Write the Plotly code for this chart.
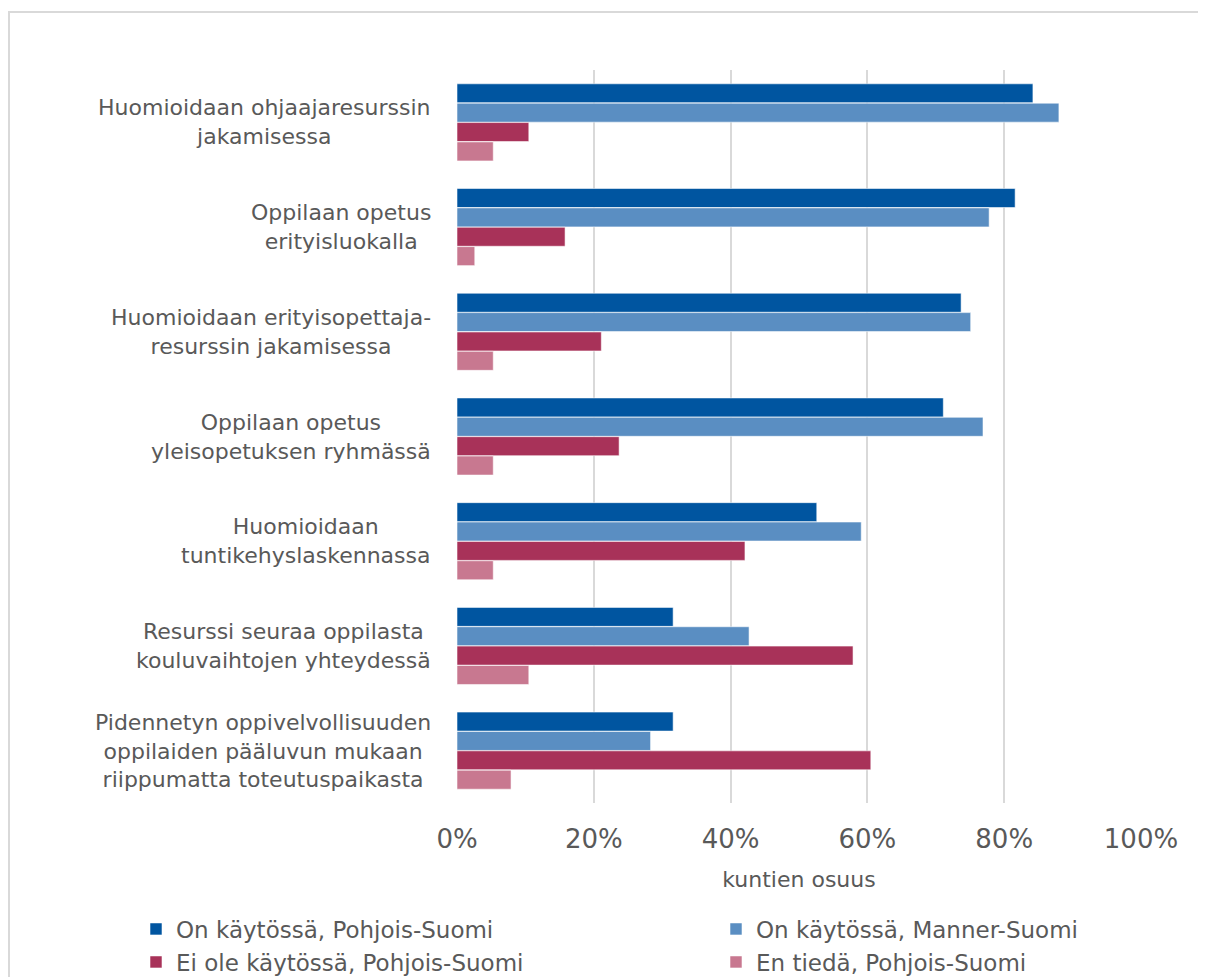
import plotly.graph_objects as go

categories = [
    "Huomioidaan ohjaajaresurssin<br>jakamisessa",
    "Oppilaan opetus<br>erityisluokalla",
    "Huomioidaan erityisopettaja-<br>resurssin jakamisessa",
    "Oppilaan opetus<br>yleisopetuksen ryhmässä",
    "Huomioidaan<br>tuntikehyslaskennassa",
    "Resurssi seuraa oppilasta<br>kouluvaihtojen yhteydessä",
    "Pidennetyn oppivelvollisuuden<br>oppilaiden pääluvun mukaan<br>riippumatta toteutuspaikasta",
]

series_names = [
    "On käytössä, Pohjois-Suomi",
    "On käytössä, Manner-Suomi",
    "Ei ole käytössä, Pohjois-Suomi",
    "En tiedä, Pohjois-Suomi",
]

on_pohjois = [0.842, 0.816, 0.737, 0.711, 0.526, 0.316, 0.316]
on_manner = [0.880, 0.778, 0.751, 0.769, 0.591, 0.427, 0.283]
ei_pohjois = [0.105, 0.158, 0.211, 0.237, 0.421, 0.579, 0.605]
en_tieda = [0.053, 0.026, 0.053, 0.053, 0.053, 0.105, 0.079]

tick_vals = [0, 0.2, 0.4, 0.6, 0.8, 1.0]
tick_text = ["0%", "20%", "40%", "60%", "80%", "100%"]

colors = ["#0055A0", "#5A8EC2", "#A83259", "#C87890"]
values = [on_pohjois, on_manner, ei_pohjois, en_tieda]
legend_ids = ["legend", "legend2", "legend3", "legend4"]

FONT = "DejaVu Sans"
GRAY = "#595959"

# page body has an 8px margin; work in figure pixels
W, H = 1198, 969
OFF = 8
PL, PR, PT, PB = 457 - OFF, 1141 - OFF, 70 - OFF, 803 - OFF
PW, PH = PR - PL, PB - PT


def px_x(ref_x):
    return (ref_x - OFF - PL) / PW


def px_y(ref_y):
    return (PB - (ref_y - OFF)) / PH


fig = go.Figure()
for name, vals, col, lg in zip(series_names, values, colors, legend_ids):
    fig.add_trace(go.Bar(
        y=categories, x=vals, name=name, orientation="h",
        marker=dict(color=col, line=dict(color="rgba(255,255,255,0.55)", width=1)),
        legend=lg,
    ))

for cat in categories:
    fig.add_annotation(
        x=px_x(433), xref="paper", y=cat, yref="y", text=cat,
        showarrow=False, xanchor="right", yanchor="middle", align="center",
        font=dict(family=FONT, size=22, color=GRAY),
    )

# chart border
fig.add_shape(type="rect", xref="paper", yref="paper",
              x0=px_x(9), x1=px_x(1240),
              y0=px_y(1010), y1=px_y(12),
              line=dict(color="#D9D9D9", width=2), layer="below")

legend_pos = [(136, 929), (716, 929), (136, 962), (716, 962)]
legend_layout = {}
for lg, (lx, ly) in zip(legend_ids, legend_pos):
    legend_layout[lg] = dict(
        xref="container", yref="container",
        x=(lx - OFF) / W, xanchor="left",
        y=1 - (ly - OFF) / H, yanchor="middle",
        font=dict(family=FONT, size=23, color=GRAY),
        bgcolor="rgba(0,0,0,0)", itemclick=False, itemdoubleclick=False,
    )

fig.update_layout(
    width=W, height=H,
    margin=dict(l=PL, r=W - PR, t=PT, b=H - PB, autoexpand=False),
    barmode="group", bargap=0.26, bargroupgap=0.02,
    plot_bgcolor="white", paper_bgcolor="white",
    font=dict(family=FONT, color=GRAY),
    showlegend=True,
    xaxis=dict(
        range=[0, 1.0], tickvals=tick_vals, ticktext=tick_text,
        showgrid=True, gridcolor="#D9D9D9", gridwidth=2, zeroline=False,
        showline=False, ticks="", ticklabelstandoff=18, automargin=False,
        tickfont=dict(family=FONT, size=26, color=GRAY),
        title=dict(text="kuntien osuus", standoff=18,
                   font=dict(family=FONT, size=22, color=GRAY)),
    ),
    yaxis=dict(
        autorange="reversed", showticklabels=False, showgrid=False,
        zeroline=False, ticks="", automargin=False,
    ),
    **legend_layout,
)

fig.write_html("out.html")
